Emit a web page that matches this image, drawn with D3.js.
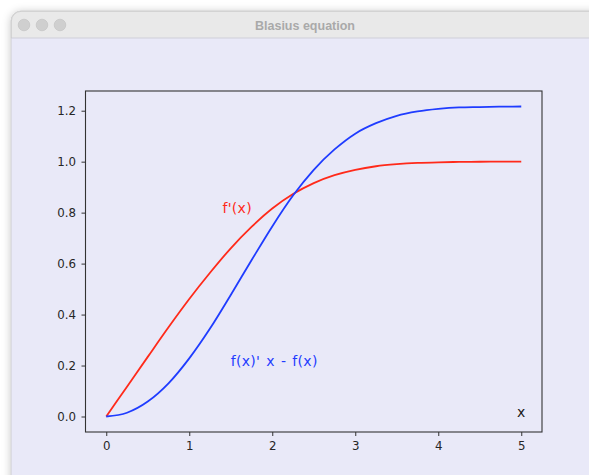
<!DOCTYPE html>
<html>
<head>
<meta charset="utf-8">
<script src="https://cdn.jsdelivr.net/npm/d3@7"></script>
<style>
  body { margin: 0; background: #ffffff; }
  svg { display: block; }
</style>
</head>
<body>
<svg id="chart" width="589" height="475"></svg>
<script>
// data
const xs = [0, 0.25, 0.5, 0.75, 1, 1.25, 1.5, 1.75, 2, 2.25, 2.5,
            2.75, 3, 3.25, 3.5, 3.75, 4, 4.25, 4.5, 4.75, 5];
const fPrime = [0, 0.117, 0.234, 0.350, 0.461, 0.564, 0.660, 0.744, 0.816, 0.873, 0.916,
                0.947, 0.968, 0.982, 0.990, 0.995, 0.9976, 0.999, 0.9996, 0.9999, 1.0];
const xfPrimeMinusF = [0, 0.0147, 0.0585, 0.130, 0.228, 0.345, 0.477, 0.613, 0.746, 0.867, 0.968,
                       1.048, 1.110, 1.151, 1.180, 1.197, 1.207, 1.2127, 1.2143, 1.2158, 1.2165];
const xTicks = [0, 1, 2, 3, 4, 5];
const yTicks = [0, 0.2, 0.4, 0.6, 0.8, 1.0, 1.2];
const noteText = ["f'(x)", "f(x)' x - f(x)", "x"];
const noteX = [1.4, 1.5, 5];
const noteY = [0.8, 0.2, 0];
const windowTitle = "Blasius equation";

const red = "#ff2a1a", blue = "#1f3cff";
const svg = d3.select("#chart");

// window chrome
const defs = svg.append("defs");
const sh = defs.append("filter").attr("id", "shadow")
  .attr("x", "-10%").attr("y", "-10%").attr("width", "130%").attr("height", "130%");
sh.append("feDropShadow").attr("dx", 0).attr("dy", 1)
  .attr("stdDeviation", 4).attr("flood-color", "#000").attr("flood-opacity", 0.22);

svg.append("rect")
  .attr("x", 11).attr("y", 11).attr("width", 620).attr("height", 520).attr("rx", 10)
  .attr("fill", "#e9e9f8").attr("stroke", "#c6c6c6").attr("stroke-width", 0.8)
  .attr("filter", "url(#shadow)");

svg.append("path")
  .attr("d", "M11,38 V21 A10,10 0 0 1 21,11 H631 V38 Z")
  .attr("fill", "#e9e9e9");
svg.append("line")
  .attr("x1", 11).attr("x2", 589).attr("y1", 38).attr("y2", 38)
  .attr("stroke", "#cfcfd8").attr("stroke-width", 1);
svg.append("path")
  .attr("d", "M11.4,38 V21 A9.6,9.6 0 0 1 21,11.4 H589")
  .attr("fill", "none").attr("stroke", "#c9c9c9").attr("stroke-width", 0.8);

svg.selectAll("circle.light")
  .data([24, 42, 60])
  .join("circle")
  .attr("class", "light")
  .attr("cx", d => d).attr("cy", 25).attr("r", 5.8)
  .attr("fill", "#cfcfcf").attr("stroke", "#bfbfbf").attr("stroke-width", 0.6);

svg.append("text")
  .attr("x", 305).attr("y", 29.5)
  .attr("text-anchor", "middle")
  .attr("font-family", "'Liberation Sans', Arial, sans-serif")
  .attr("font-weight", "bold").attr("font-size", 12.5)
  .attr("fill", "#a9a9a9")
  .text(windowTitle);

// plot
const plotLeft = 85.5, plotRight = 542, plotTop = 91, plotBottom = 432;
const yMax = d3.max(xfPrimeMinusF);
const pad = 0.05 * yMax;
const x = d3.scaleLinear().domain([-0.25, 5.25]).range([plotLeft, plotRight]);
const y = d3.scaleLinear().domain([-pad, yMax + pad]).range([plotBottom, plotTop]);

const tickFont = "'DejaVu Sans', sans-serif";

const gx = svg.append("g")
  .attr("transform", `translate(0,${plotBottom})`)
  .call(d3.axisBottom(x).tickValues(xTicks).tickFormat(d3.format("d"))
    .tickSize(4).tickPadding(5.5).tickSizeOuter(0));
const gy = svg.append("g")
  .attr("transform", `translate(${plotLeft},0)`)
  .call(d3.axisLeft(y).tickValues(yTicks).tickFormat(d3.format(".1f"))
    .tickSize(4).tickPadding(5.5).tickSizeOuter(0));

[gx, gy].forEach(g => {
  g.select(".domain").remove();
  g.selectAll("line").attr("stroke", "#333");
  g.selectAll("text")
    .attr("font-family", tickFont).attr("font-size", 11.8).attr("fill", "#262626");
});

const series = [
  {values: fPrime, color: red},
  {values: xfPrimeMinusF, color: blue}
];
const line = d3.line()
  .x((d, i) => x(xs[i]))
  .y(d => y(d))
  .curve(d3.curveMonotoneX);

svg.selectAll("path.series")
  .data(series)
  .join("path")
  .attr("class", "series")
  .attr("d", s => line(s.values))
  .attr("fill", "none")
  .attr("stroke", s => s.color)
  .attr("stroke-width", 1.8);

svg.selectAll("text.note")
  .data(noteText)
  .join("text")
  .attr("class", "note")
  .attr("x", (t, i) => x(noteX[i]))
  .attr("y", (t, i) => y(noteY[i]))
  .attr("text-anchor", (t, i) => i === 2 ? "middle" : "start")
  .attr("font-family", tickFont).attr("font-size", 14)
  .attr("letter-spacing", 0.3).attr("word-spacing", 1.3)
  .attr("fill", (t, i) => [red, blue, "#1a1a1a"][i])
  .text(t => t);

// frame
svg.append("rect")
  .attr("x", plotLeft).attr("y", plotTop)
  .attr("width", plotRight - plotLeft).attr("height", plotBottom - plotTop)
  .attr("fill", "none").attr("stroke", "#333").attr("stroke-width", 1.1);
</script>
</body>
</html>
